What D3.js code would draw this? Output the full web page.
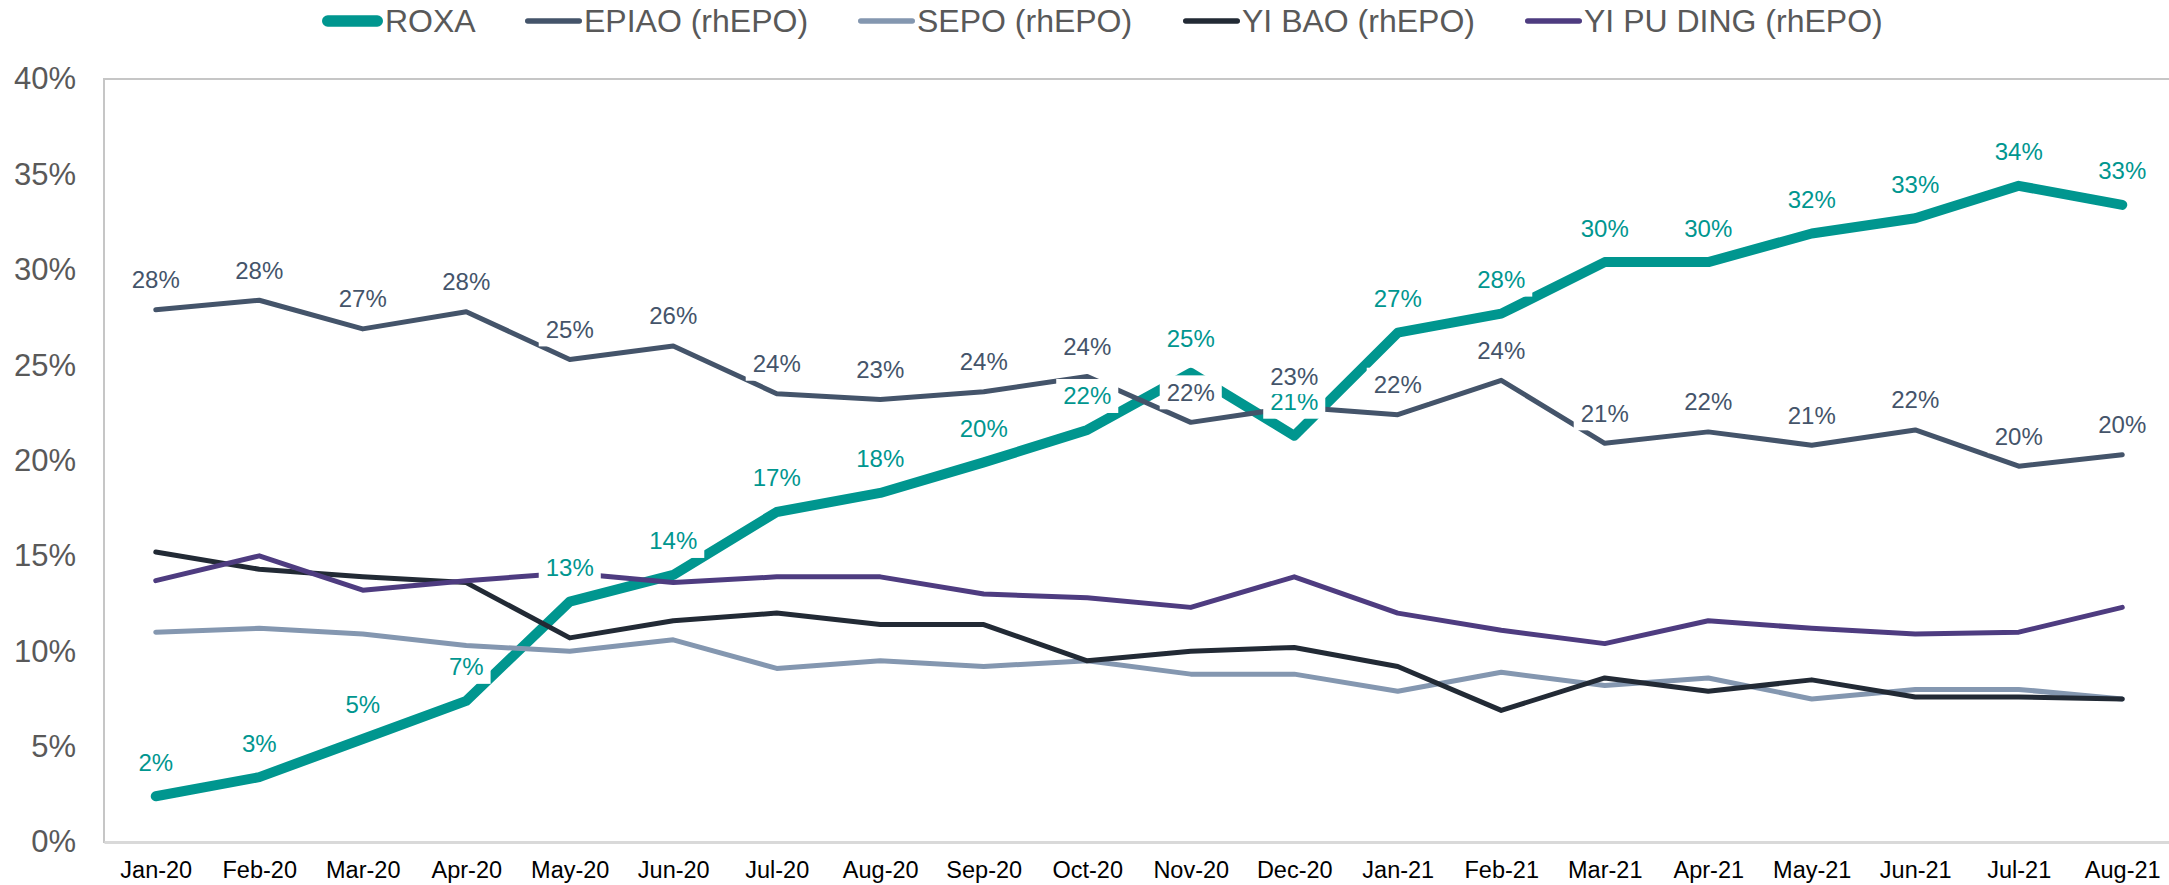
<!DOCTYPE html>
<html>
<head>
<meta charset="utf-8">
<script src="https://cdn.jsdelivr.net/npm/d3@7"></script>
<style>
  html, body { margin: 0; padding: 0; background: #fff; }
  svg { display: block; font-family: "Liberation Sans", Arial, sans-serif; }
</style>
</head>
<body>
<div id="chart"></div>
<script>
const months = ['Jan-20', 'Feb-20', 'Mar-20', 'Apr-20', 'May-20', 'Jun-20', 'Jul-20', 'Aug-20', 'Sep-20', 'Oct-20',
  'Nov-20', 'Dec-20', 'Jan-21', 'Feb-21', 'Mar-21', 'Apr-21', 'May-21', 'Jun-21', 'Jul-21', 'Aug-21'];

const roxa = [2.4, 3.4, 5.4, 7.4, 12.6, 14.0, 17.3, 18.3, 19.9, 21.6, 24.6, 21.3, 26.7, 27.7, 30.4, 30.4, 31.9, 32.7, 34.4, 33.4];
const epiao = [27.9, 28.4, 26.9, 27.8, 25.3, 26.0, 23.5, 23.2, 23.6, 24.4, 22.0, 22.8, 22.4, 24.2, 20.9, 21.5, 20.8, 21.6, 19.7, 20.3];
const sepo = [11.0, 11.2, 10.9, 10.3, 10.0, 10.6, 9.1, 9.5, 9.2, 9.5, 8.8, 8.8, 7.9, 8.9, 8.2, 8.6, 7.5, 8.0, 8.0, 7.5];
const yiBao = [15.2, 14.3, 13.9, 13.6, 10.7, 11.6, 12.0, 11.4, 11.4, 9.5, 10.0, 10.2, 9.2, 6.9, 8.6, 7.9, 8.5, 7.6, 7.6, 7.5];
const yiPuDing = [13.7, 15.0, 13.2, 13.7, 14.1, 13.6, 13.9, 13.9, 13.0, 12.8, 12.3, 13.9, 12.0, 11.1, 10.4, 11.6, 11.2, 10.9, 11.0, 12.3];

const yTicks = [0, 5, 10, 15, 20, 25, 30, 35, 40];

const series = [
  { name: 'ROXA', values: roxa, color: '#00968F', width: 10, labels: true, labelOffset: 34 },
  { name: 'EPIAO (rhEPO)', values: epiao, color: '#44546A', width: 5, labels: true, labelOffset: 30 },
  { name: 'SEPO (rhEPO)', values: sepo, color: '#8497B0', width: 5, labels: false },
  { name: 'YI BAO (rhEPO)', values: yiBao, color: '#222A35', width: 5, labels: false },
  { name: 'YI PU DING (rhEPO)', values: yiPuDing, color: '#4E3C80', width: 5, labels: false }
];

const w = 2169;
const h = 885;
const plotLeft = 104, plotRight = 2174, plotTop = 79, plotBottom = 842;

const svg = d3.select('#chart')
  .append('svg')
  .attr('width', w)
  .attr('height', h);

const xScale = d3.scalePoint()
  .domain(months)
  .range([plotLeft, plotRight])
  .padding(0.5);

const yScale = d3.scaleLinear()
  .domain([0, 40])
  .range([plotBottom, plotTop]);

// plot frame
svg.append('rect')
  .attr('x', plotLeft)
  .attr('y', plotTop)
  .attr('width', plotRight - plotLeft)
  .attr('height', plotBottom - plotTop)
  .attr('fill', 'none')
  .attr('stroke', '#c6c6c6')
  .attr('stroke-width', 2);

const yAxis = d3.axisLeft(yScale)
  .tickValues(yTicks)
  .tickSize(0)
  .tickPadding(28)
  .tickFormat(d => d + '%');

svg.append('g')
  .attr('transform', 'translate(' + plotLeft + ',0)')
  .call(yAxis)
  .call(g => g.select('.domain').remove())
  .selectAll('text')
  .attr('font-family', '"Liberation Sans", Arial, sans-serif')
  .attr('font-size', 31)
  .attr('fill', '#595959');

const xAxis = d3.axisBottom(xScale).tickSize(0);

svg.append('g')
  .attr('transform', 'translate(0,' + plotBottom + ')')
  .call(xAxis)
  .call(g => g.select('.domain').attr('stroke', '#d9d9d9').attr('stroke-width', 3))
  .selectAll('text')
  .attr('y', 28)
  .attr('dy', '0.35em')
  .attr('font-family', '"Liberation Sans", Arial, sans-serif')
  .attr('font-size', 23.5)
  .attr('fill', '#000');

const line = d3.line()
  .x((d, i) => xScale(months[i]))
  .y(d => yScale(d));

series.forEach(s => {
  svg.append('path')
    .datum(s.values)
    .attr('fill', 'none')
    .attr('stroke', s.color)
    .attr('stroke-width', s.width)
    .attr('stroke-linejoin', 'round')
    .attr('stroke-linecap', 'round')
    .attr('d', line);
});

// data labels sit on top of every line, with a white box
series.filter(s => s.labels).forEach(s => {
  const g = svg.append('g');
  s.values.forEach((v, i) => {
    const cx = xScale(months[i]);
    const cy = yScale(v) - s.labelOffset;
    const box = g.append('rect').attr('fill', '#fff');
    const t = g.append('text')
      .attr('x', cx)
      .attr('y', cy)
      .attr('dy', '0.35em')
      .attr('text-anchor', 'middle')
      .attr('font-size', 24)
      .attr('fill', s.color)
      .text(Math.round(v) + '%');
    const tw = t.node().getComputedTextLength();
    box.attr('x', cx - tw / 2 - 7)
      .attr('y', cy - 17)
      .attr('width', tw + 14)
      .attr('height', 34);
  });
});

// legend, entries placed like the original
const legendX = [322, 525, 858, 1183, 1525];
const legend = svg.append('g').attr('class', 'legend');
const ly = 21;
series.forEach((s, i) => {
  const lx = legendX[i];
  const thick = s.width > 6;
  const len = thick ? 61 : 57;
  const sw = thick ? 11.5 : 5.5;
  legend.append('line')
    .attr('x1', lx + sw / 2)
    .attr('x2', lx + len - sw / 2)
    .attr('y1', ly)
    .attr('y2', ly)
    .attr('stroke', s.color)
    .attr('stroke-width', sw)
    .attr('stroke-linecap', 'round');
  legend.append('text')
    .attr('x', lx + len + 2)
    .attr('y', ly)
    .attr('dy', '0.35em')
    .attr('font-size', 32)
    .attr('fill', '#595959')
    .text(s.name);
});
</script>
</body>
</html>
